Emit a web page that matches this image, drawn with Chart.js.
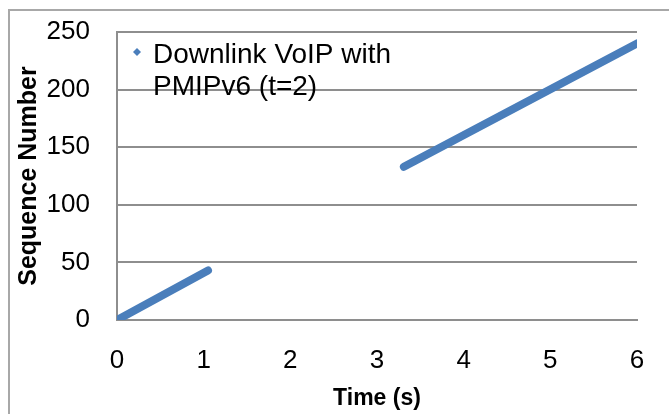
<!DOCTYPE html>
<html>
<head>
<meta charset="utf-8">
<script src="https://cdn.jsdelivr.net/npm/chart.js@4.4.0/dist/chart.umd.min.js"></script>
<style>
  html, body { margin: 0; padding: 0; background: #fff; }
  #wrap { width: 669px; height: 414px; }
</style>
</head>
<body>
<div id="wrap"><canvas id="seqChart"></canvas></div>
<script>
const seriesLabel = "Downlink VoIP with PMIPv6 (t=2)";
const legendLines = ["Downlink VoIP with", "PMIPv6 (t=2)"];
// time (s) vs sequence number, null marks the handover gap
const timeValues = [0, 1.05, null, 3.31, 6];
const seqValues = [0, 43, null, 133, 240];
const xTicks = [0, 1, 2, 3, 4, 5, 6];
const yTicks = [0, 50, 100, 150, 200, 250];

const FONT = "'Liberation Sans', Arial, sans-serif";
const LINE_BLUE = "#4a7ebb";
const GRID_GREY = "#8e8e8e";

const points = timeValues.map((t, i) => ({ x: t, y: seqValues[i] }));

// grey frame round the whole chart (only top/left fall inside the picture)
const frame = {
    id: "frame",
    beforeDraw(chart) {
        const ctx = chart.ctx;
        ctx.save();
        ctx.strokeStyle = "#a8a8a8";
        ctx.lineWidth = 2;
        ctx.strokeRect(9, 10, chart.width + 20, chart.height + 20);
        ctx.restore();
    }
};

// legend sits inside the plot, text wrapped on two lines
const insideLegend = {
    id: "insideLegend",
    afterDatasetsDraw(chart) {
        const ctx = chart.ctx;
        const area = chart.chartArea;
        const mx = area.left + 20, my = area.top + 20;
        ctx.save();
        ctx.fillStyle = chart.data.datasets[0].borderColor;
        ctx.beginPath();
        ctx.moveTo(mx, my - 4);
        ctx.lineTo(mx + 4, my);
        ctx.lineTo(mx, my + 4);
        ctx.lineTo(mx - 4, my);
        ctx.closePath();
        ctx.fill();
        ctx.fillStyle = "#000";
        ctx.font = "28px " + FONT;
        ctx.textBaseline = "alphabetic";
        legendLines.forEach((line, i) => {
            ctx.fillText(line, mx + 16, area.top + 31 + i * 32);
        });
        ctx.restore();
    }
};

new Chart(document.getElementById("seqChart"), {
    type: "scatter",
    data: {
        datasets: [{
            label: seriesLabel,
            data: points,
            showLine: true,
            spanGaps: false,
            borderColor: LINE_BLUE,
            backgroundColor: LINE_BLUE,
            borderWidth: 8,
            borderCapStyle: "round",
            pointRadius: 0
        }]
    },
    options: {
        responsive: true,
        maintainAspectRatio: false,
        animation: false,
        layout: { padding: { top: 32, right: 32, left: 0, bottom: 0 } },
        plugins: {
            legend: { display: false },
            tooltip: { enabled: false }
        },
        scales: {
            x: {
                type: "linear",
                min: 0,
                max: 6,
                afterBuildTicks: s => { s.ticks = xTicks.map(v => ({ value: v })); },
                afterFit: s => { s.height = 94; s.paddingLeft = 0; s.paddingRight = 0; },
                grid: { display: false, drawTicks: false },
                border: { display: true, color: GRID_GREY, width: 2 },
                ticks: { color: "#000", font: { family: FONT, size: 26 }, padding: 25, maxRotation: 0 },
                title: {
                    display: true,
                    text: "Time (s)",
                    color: "#000",
                    font: { family: FONT, size: 23, weight: "bold" },
                    padding: { top: 0, bottom: 2 }
                }
            },
            y: {
                type: "linear",
                min: 0,
                max: 250,
                afterBuildTicks: s => { s.ticks = yTicks.map(v => ({ value: v })); },
                afterFit: s => { s.width = 117; s.paddingTop = 0; s.paddingBottom = 0; },
                grid: { color: GRID_GREY, lineWidth: 2, drawTicks: false },
                border: { display: true, color: GRID_GREY, width: 2 },
                ticks: { color: "#000", font: { family: FONT, size: 26 }, padding: 27 },
                title: {
                    display: true,
                    text: "Sequence Number",
                    color: "#000",
                    font: { family: FONT, size: 25, weight: "bold" },
                    padding: { top: 14, bottom: 0 }
                }
            }
        }
    },
    plugins: [frame, insideLegend]
});
</script>
</body>
</html>
